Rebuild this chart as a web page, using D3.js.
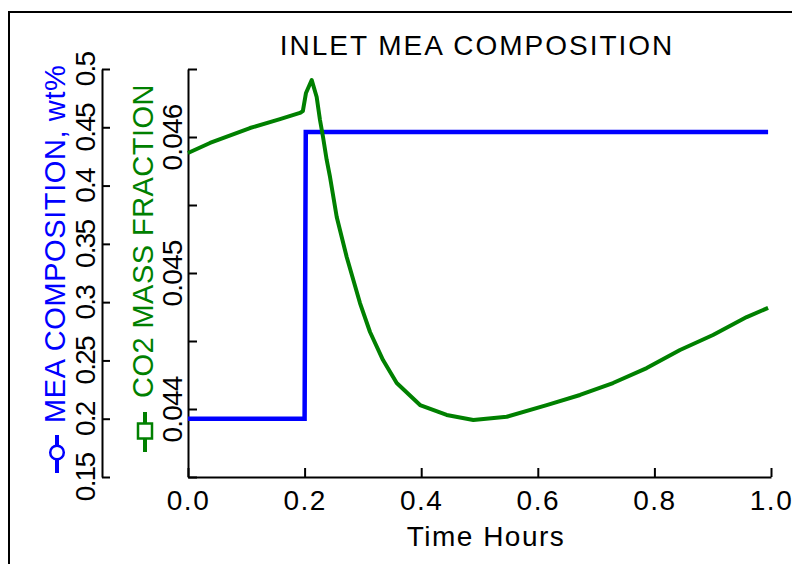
<!DOCTYPE html>
<html>
<head>
<script src="https://d3js.org/d3.v7.min.js"></script>
<style>
  body { margin: 0; background: #fff; }
  svg { display: block; font-family: "Liberation Sans", Arial, sans-serif; }
</style>
</head>
<body>
<svg id="chart" width="792" height="564"></svg>
<script>
// MEA composition (blue, left outer axis)
const meaTime = [0, 0.2, 0.202, 0.995];
const meaComp = [0.2, 0.2, 0.446, 0.446];

// CO2 mass fraction (green, inner axis)
const co2Time = [0, 0.0377, 0.1063, 0.1578, 0.192, 0.197, 0.2024, 0.2122, 0.2207, 0.2264,
  0.2316, 0.2379, 0.2436, 0.2551, 0.2722, 0.295, 0.3122, 0.3345, 0.358, 0.398,
  0.4437, 0.4894, 0.5467, 0.6153, 0.6724, 0.729, 0.7868, 0.8439, 0.9005, 0.9583, 0.995];
const co2Frac = [0.045882, 0.045956, 0.046066, 0.046132, 0.046177, 0.046190, 0.046324, 0.046419, 0.046294, 0.046125,
  0.046000, 0.045831, 0.045706, 0.045412, 0.045118, 0.044779, 0.044566, 0.044360, 0.044191, 0.044029,
  0.043956, 0.043919, 0.043943, 0.044029, 0.044103, 0.044191, 0.044301, 0.044434, 0.044544, 0.044676, 0.044743];

const xTicks = [0, 0.2, 0.4, 0.6, 0.8, 1.0];
const meaTicks = [0.15, 0.2, 0.25, 0.3, 0.35, 0.4, 0.45, 0.5];
const co2Ticks = [0.0435, 0.044, 0.0445, 0.045, 0.0455, 0.046, 0.0465];
const co2Labelled = [0.044, 0.045, 0.046];

const svg = d3.select("#chart");
const plotLeft = 188, plotRight = 771, plotTop = 69, plotBottom = 477;

const x = d3.scaleLinear().domain([0, 1]).range([plotLeft, plotRight]);
const yMea = d3.scaleLinear().domain([0.15, 0.5]).range([plotBottom, plotTop]);
const yCo2 = d3.scaleLinear().domain([0.0435, 0.0465]).range([plotBottom, plotTop]);

svg.append("rect").attr("width", 792).attr("height", 564).attr("fill", "#fff");

// outer frame (only left and top edges show)
svg.append("rect")
  .attr("x", 9).attr("y", 12).attr("width", 800).attr("height", 600)
  .attr("fill", "none").attr("stroke", "#000").attr("stroke-width", 2);

// title
svg.append("text")
  .attr("x", 477).attr("y", 55)
  .attr("text-anchor", "middle")
  .attr("font-size", 28).attr("letter-spacing", 2)
  .text("INLET MEA COMPOSITION");

// x axis
const gx = svg.append("g")
  .attr("transform", `translate(0,${plotBottom})`)
  .call(d3.axisBottom(x).tickValues(xTicks).tickFormat(d3.format(".1f"))
    .tickSizeInner(-9).tickSizeOuter(0));
gx.selectAll("text").attr("y", 33).attr("dy", 0)
  .attr("font-size", 28).attr("letter-spacing", 1.5).attr("fill", "#000");

svg.append("text")
  .attr("x", 486).attr("y", 546)
  .attr("text-anchor", "middle")
  .attr("font-size", 28).attr("letter-spacing", 1.5)
  .text("Time Hours");

// MEA axis
const gm = svg.append("g")
  .attr("transform", `translate(102,0)`)
  .call(d3.axisRight(yMea).tickValues(meaTicks).tickFormat(d => String(+d.toFixed(2)))
    .tickSizeInner(8).tickSizeOuter(0));
gm.selectAll("text")
  .attr("x", 0).attr("dy", 0)
  .attr("text-anchor", "middle")
  .attr("transform", "translate(-7,0) rotate(-90)")
  .attr("font-size", 28).attr("letter-spacing", -1.8).attr("fill", "#000");

// CO2 axis
const gc = svg.append("g")
  .attr("transform", `translate(${plotLeft},0)`)
  .call(d3.axisRight(yCo2).tickValues(co2Ticks)
    .tickFormat(d => co2Labelled.some(v => Math.abs(v - d) < 1e-9) ? d3.format(".3f")(d) : "")
    .tickSizeInner(9).tickSizeOuter(0));
gc.selectAll("text")
  .attr("x", 0).attr("dy", 0)
  .attr("text-anchor", "middle")
  .attr("transform", "translate(-6,0) rotate(-90)")
  .attr("font-size", 28).attr("letter-spacing", -0.8).attr("fill", "#000");

[gx, gm, gc].forEach(g => {
  g.selectAll(".domain, .tick line").attr("stroke", "#000").attr("stroke-width", 2);
});

// axis titles with legend symbols
svg.append("text")
  .attr("transform", "translate(65,423) rotate(-90)")
  .attr("font-size", 29).attr("letter-spacing", 0.6)
  .attr("fill", "#0000ff")
  .text("MEA COMPOSITION, wt%");
svg.append("line")
  .attr("x1", 57).attr("x2", 57).attr("y1", 435).attr("y2", 473)
  .attr("stroke", "#0000ff").attr("stroke-width", 4);
svg.append("circle")
  .attr("cx", 57).attr("cy", 452.5).attr("r", 6.8)
  .attr("fill", "#fff").attr("stroke", "#0000ff").attr("stroke-width", 2.5);

svg.append("text")
  .attr("transform", "translate(153,398) rotate(-90)")
  .attr("font-size", 29).attr("letter-spacing", 0.45)
  .attr("fill", "#008000")
  .text("CO2 MASS FRACTION");
svg.append("line")
  .attr("x1", 145).attr("x2", 145).attr("y1", 412).attr("y2", 452)
  .attr("stroke", "#008000").attr("stroke-width", 4);
svg.append("rect")
  .attr("x", 138).attr("y", 423.5).attr("width", 14).attr("height", 15)
  .attr("fill", "#fff").attr("stroke", "#008000").attr("stroke-width", 2.5);

// series
const meaLine = d3.line().x((d, i) => x(meaTime[i])).y(d => yMea(d));
svg.append("path")
  .attr("d", meaLine(meaComp))
  .attr("fill", "none").attr("stroke", "#0000ff").attr("stroke-width", 4.5);

const co2Line = d3.line().x((d, i) => x(co2Time[i])).y(d => yCo2(d));
svg.append("path")
  .attr("d", co2Line(co2Frac))
  .attr("fill", "none").attr("stroke", "#008000").attr("stroke-width", 4)
  .attr("stroke-linejoin", "round");
</script>
</body>
</html>
